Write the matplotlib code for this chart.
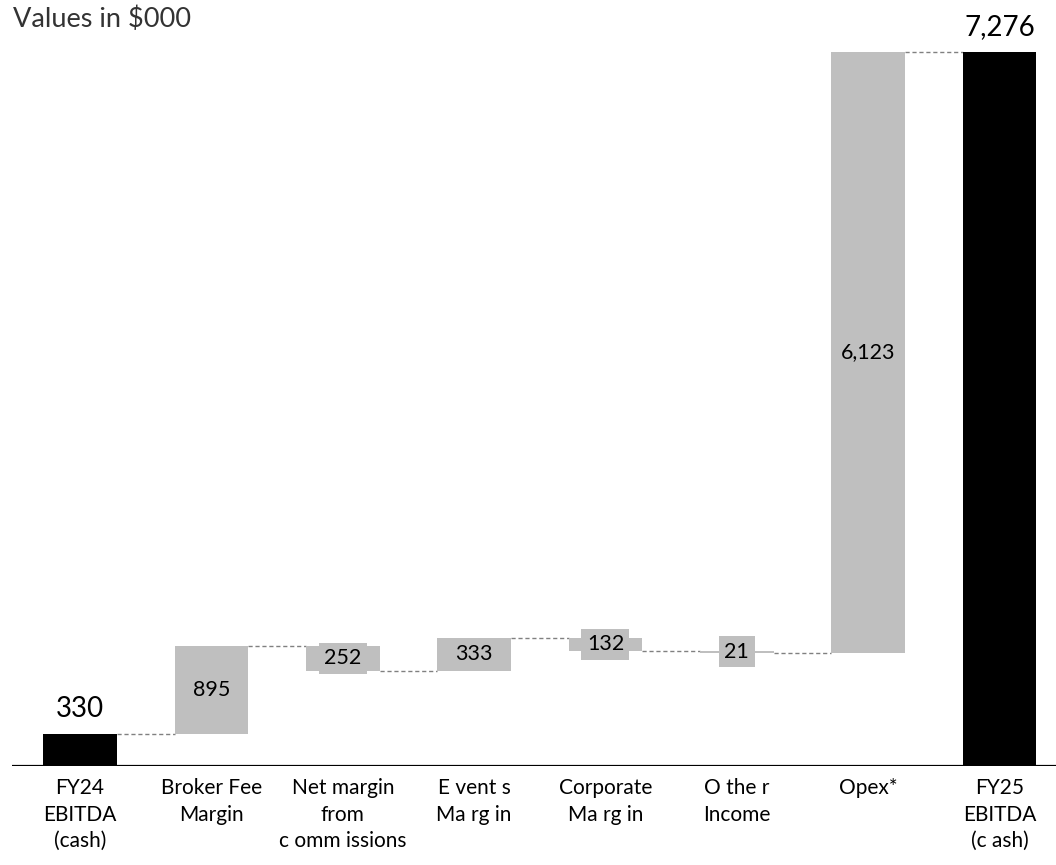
import matplotlib.pyplot as plt

# Bridge from FY24 to FY25 EBITDA, values in $000
categories = ['FY24\nEBITDA\n(cash)', 'Broker Fee\nMargin', 'Net margin\nfrom\nc omm issions',
              'E vent s\nMa rg in', 'Corporate\nMa rg in', 'O the r\nIncome', 'Opex*',
              'FY25\nEBITDA\n(c ash)']
start_value = 330
changes = [895, -252, 333, -132, -21, 6123]
end_value = 7276

GREY = '#bfbfbf'
LABEL_FONT = ['Lato', 'DejaVu Sans']


def waterfall(ax):
    width = 0.56
    n = len(categories)

    # opening total
    ax.bar(0, start_value, width, color='black', zorder=2)
    ax.text(0, start_value + 120, f'{start_value:,}', ha='center', va='bottom',
            fontsize=20, family=LABEL_FONT)

    running = start_value
    levels = [running]
    for i, delta in enumerate(changes, start=1):
        low = min(running, running + delta)
        ax.bar(i, abs(delta), width, bottom=low, color=GREY, zorder=2)
        ax.text(i, low + abs(delta) / 2, f'{abs(delta):,}', ha='center', va='center',
                fontsize=15.5, family=LABEL_FONT, zorder=4,
                bbox=dict(boxstyle='square,pad=0.25', facecolor=GREY, edgecolor='none'))
        running += delta
        levels.append(running)

    # closing total
    ax.bar(n - 1, end_value, width, color='black', zorder=2)
    ax.text(n - 1, end_value + 120, f'{end_value:,}', ha='center', va='bottom',
            fontsize=20, family=LABEL_FONT)

    # dashed connectors between consecutive bars
    for i, level in enumerate(levels):
        ax.plot([i + width / 2, i + 1 - width / 2], [level, level], color='#808080',
                lw=1, ls=(0, (3, 2)), zorder=1)

    ax.axhline(0, color='black', lw=1.6, zorder=3)
    ax.set_xticks(range(n))
    ax.set_xticklabels(categories, fontsize=15, family=LABEL_FONT, linespacing=1.38)
    ax.tick_params(axis='x', length=0, pad=9)
    ax.set_yticks([])
    for s in ax.spines.values():
        s.set_visible(False)
    ax.set_xlim(-0.518, 7.43)
    ax.set_ylim(0, 7808)


fig = plt.figure(figsize=(10.56, 8.65), dpi=100)
ax = fig.add_axes([0.0114, 0.1145, 0.9886, 0.8855])
waterfall(ax)
fig.text(0.012, 0.992, 'Values in $000', ha='left', va='top', fontsize=19.5,
         family=LABEL_FONT, color='#333333')
fig.savefig('out.png', dpi=100)
